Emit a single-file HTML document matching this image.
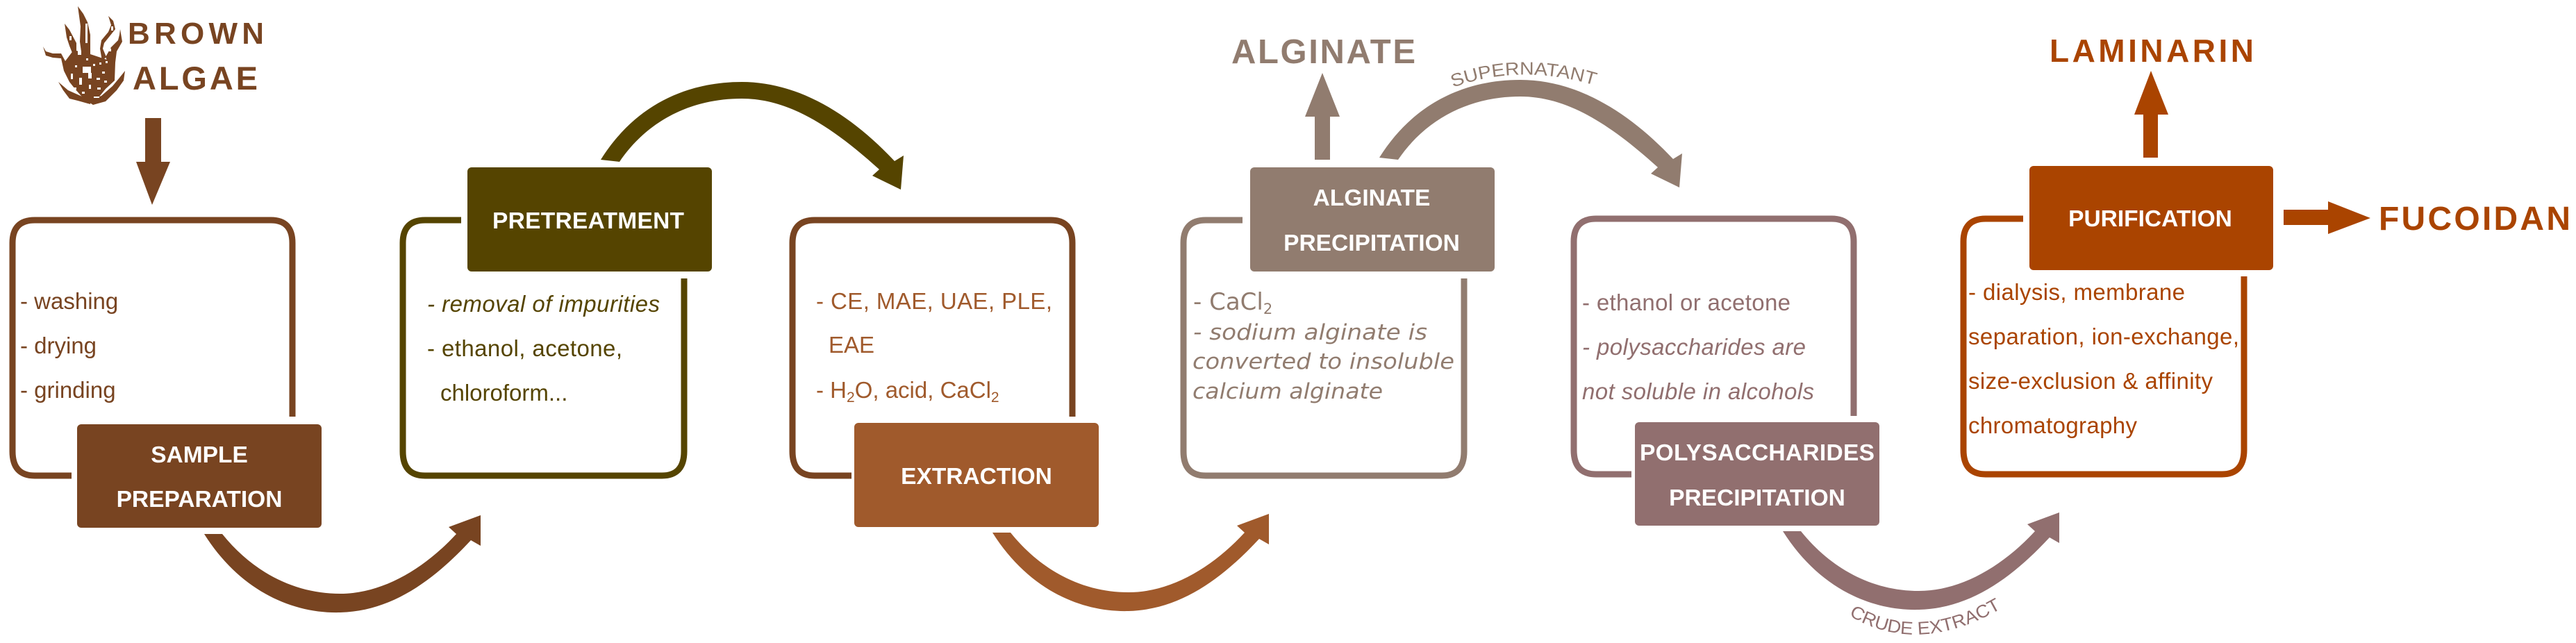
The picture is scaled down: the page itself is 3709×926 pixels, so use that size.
<!DOCTYPE html>
<html><head><meta charset="utf-8"><title>Brown algae</title>
<style>html,body{margin:0;padding:0;background:#fff;width:3709px;height:926px;overflow:hidden}
svg{display:block}
text{font-family:"Liberation Sans",sans-serif}
.t{font-size:33px}.h{font-size:33.5px;font-weight:bold;fill:#fff;text-anchor:middle}
.l{font-weight:bold}.i{font-style:italic}
.d{font-family:"DejaVu Sans",sans-serif;font-size:31px;fill:#917c6f}
.b{fill:none;stroke-width:9;stroke-linecap:butt}
</style></head><body>
<svg width="3709" height="926" viewBox="0 0 3709 926" xmlns="http://www.w3.org/2000/svg">
<defs>
<path id="au" d="M294 769 C345 850 420 884 490 882 C565 880 625 835 678 778 L692 786 L692 742 L646 759 L657 769 C610 820 550 855 490 855 C425 855 365 825 320 769 Z"/>
<path id="ao" d="M865 230 C915 150 990 118 1068 118 C1150 118 1225 165 1288 232 L1301 224 L1297 273 L1256 253 L1266 244 C1190 175 1130 142 1068 142 C1000 142 935 170 892 233 Z"/>
</defs>
<rect width="3709" height="926" fill="#fff"/>

<!-- seaweed -->
<g fill="#784421">
<path d="M112 9 L120 20 L126 32 L130 50 L130 80 L118 82 L115 60 L116 38 Z"/>
<path d="M93 34 L100 43 L110 62 L110 74 L104 76 L100 66 L96 54 Z"/>
<path d="M156 23 L163 30 L166 42 L158 52 L150 62 L148 70 L153 82 L147 88 L144 70 L146 58 L156 46 L160 36 Z"/>
<path d="M173 42 L176 60 L168 74 L166 90 L156 92 L152 82 L160 68 L170 58 L172 50 Z"/>
<path d="M62 67 L66 74 L76 77 L88 77 L94 88 L106 72 L130 78 L148 84 L166 90 L165 116 L152 128 L135 149 L122 144 L108 128 L100 118 L92 102 L88 84 L76 83 L66 80 Z"/>
<path d="M180 102 L178 116 L168 130 L152 146 L134 151 L126 146 L146 138 L162 124 L172 112 Z"/>
<path d="M84 118 L98 130 L116 138 L130 146 L130 150 L112 145 L100 142 L91 130 Z"/>
<g fill="#fff">
<rect x="123" y="34" width="3" height="28"/><rect x="112" y="73" width="5" height="6"/><rect x="119" y="96" width="12" height="9"/><rect x="127" y="105" width="5" height="8"/>
<rect x="102" y="106" width="3" height="8"/><rect x="114" y="112" width="4" height="10"/><rect x="139" y="112" width="5" height="3"/><rect x="147" y="103" width="4" height="3"/><rect x="143" y="90" width="3" height="3"/><rect x="134" y="92" width="3" height="3"/><rect x="152" y="88" width="3" height="3"/><rect x="124" y="84" width="3" height="3"/><rect x="108" y="94" width="3" height="3"/><rect x="150" y="116" width="4" height="3"/><rect x="140" y="126" width="5" height="3"/><rect x="106" y="126" width="4" height="3"/><rect x="118" y="132" width="4" height="3"/><rect x="135" y="139" width="8" height="2"/><rect x="128" y="122" width="3" height="6"/><rect x="157" y="70" width="3" height="4"/><rect x="160" y="38" width="3" height="6"/><rect x="100" y="52" width="3" height="6"/></g>
</g>
<text class="l" x="184" y="63" font-size="44" fill="#784421" textLength="196" lengthAdjust="spacing">BROWN</text>
<text class="l" x="191" y="129" font-size="47" fill="#784421" textLength="180" lengthAdjust="spacing">ALGAE</text>
<path fill="#784421" d="M209 170H232V233H245L219 295L196 233H209Z"/>

<!-- box 1 -->
<path class="b" stroke="#784421" d="M103 685 H50 Q18 685 18 650 V350 Q18 317 50 317 H390 Q421 317 421 350 V600"/>
<rect x="111" y="611" width="352" height="149" rx="6" fill="#784421"/>
<text class="h" x="287" y="666">SAMPLE</text>
<text class="h" x="287" y="730">PREPARATION</text>
<g class="t" fill="#784421"><text x="29" y="445">- washing</text><text x="29" y="509">- drying</text><text x="29" y="573">- grinding</text></g>
<use href="#au" fill="#784421"/>

<!-- box 2 -->
<path class="b" stroke="#554400" d="M664 317 H612 Q580 317 580 350 V650 Q580 685 612 685 H953 Q985 685 985 650 V401"/>
<rect x="673" y="241" width="352" height="150" rx="6" fill="#554400"/>
<text class="h" x="847" y="329" textLength="276">PRETREATMENT</text>
<g class="t" fill="#554400"><text class="i" x="615" y="449" textLength="335">- removal of impurities</text><text x="615" y="513" textLength="281">- ethanol, acetone,</text><text x="634" y="577">chloroform...</text></g>
<use href="#ao" fill="#554400"/>

<!-- box 3 -->
<path class="b" stroke="#784421" d="M1226 685 H1173 Q1141 685 1141 650 V350 Q1141 317 1173 317 H1513 Q1544 317 1544 350 V600"/>
<rect x="1230" y="609" width="352" height="150" rx="6" fill="#a05a2c"/>
<text class="h" x="1406" y="697">EXTRACTION</text>
<g class="t" fill="#a05a2c"><text x="1175" y="445" textLength="340">- CE, MAE, UAE, PLE,</text><text x="1193" y="508">EAE</text><text x="1175" y="573">- H<tspan font-size="21" dy="6">2</tspan><tspan dy="-6">O, acid, CaCl</tspan><tspan font-size="21" dy="6">2</tspan></text></g>
<use href="#au" x="1135" y="-2" fill="#a05a2c"/>

<!-- box 4 -->
<path class="b" stroke="#917c6f" d="M1789 317 H1736 Q1704 317 1704 350 V650 Q1704 685 1736 685 H2076 Q2108 685 2108 650 V401"/>
<rect x="1800" y="241" width="352" height="150" rx="6" fill="#917c6f"/>
<text class="h" x="1975" y="296">ALGINATE</text>
<text class="h" x="1975" y="361">PRECIPITATION</text>
<text class="d" x="1718" y="446" style="font-size:34px">- CaCl<tspan font-size="21" dy="6">2</tspan></text>
<text class="d i" x="1718" y="489" textLength="337" lengthAdjust="spacingAndGlyphs">- sodium alginate is</text>
<text class="d i" x="1717" y="531" textLength="377" lengthAdjust="spacingAndGlyphs">converted to insoluble</text>
<text class="d i" x="1717" y="574" textLength="274" lengthAdjust="spacingAndGlyphs">calcium alginate</text>
<text class="l" x="1773" y="91" font-size="49" fill="#917c6f" textLength="265" lengthAdjust="spacing">ALGINATE</text>
<path fill="#917c6f" d="M1893 230V168H1879L1904 105L1929 168H1915V230Z"/>
<use href="#ao" x="1121" y="-3" fill="#917c6f"/>
<path id="sp" d="M2092 126 Q2190 90 2300 124" fill="none"/>
<text font-size="26" fill="#917c6f"><textPath href="#sp" textLength="208" lengthAdjust="spacingAndGlyphs">SUPERNATANT</textPath></text>

<!-- box 5 -->
<path class="b" stroke="#916f6f" d="M2349 683 H2298 Q2266 683 2266 648 V348 Q2266 315 2298 315 H2637 Q2669 315 2669 348 V599"/>
<rect x="2354" y="608" width="352" height="149" rx="6" fill="#916f6f"/>
<text class="h" x="2530" y="663" textLength="338">POLYSACCHARIDES</text>
<text class="h" x="2530" y="728">PRECIPITATION</text>
<g class="t" fill="#916f6f"><text x="2278" y="447" textLength="300">- ethanol or acetone</text><text class="i" x="2278" y="511" textLength="322">- polysaccharides are</text><text class="i" x="2278" y="575" textLength="334">not soluble in alcohols</text></g>
<use href="#au" x="2273" y="-4" fill="#916f6f"/>
<path id="cp" d="M2662 886 Q2760 946 2882 876" fill="none"/>
<text font-size="26" fill="#916f6f"><textPath href="#cp" textLength="232" lengthAdjust="spacingAndGlyphs">CRUDE EXTRACT</textPath></text>

<!-- box 6 -->
<path class="b" stroke="#aa4400" d="M2913 315 H2859 Q2827 315 2827 348 V648 Q2827 683 2859 683 H3199 Q3231 683 3231 648 V398"/>
<rect x="2922" y="239" width="351" height="150" rx="6" fill="#aa4400"/>
<text class="h" x="3096" y="326">PURIFICATION</text>
<g class="t" fill="#aa4400"><text x="2834" y="432" textLength="312">- dialysis, membrane</text><text x="2834" y="496" textLength="390">separation, ion-exchange,</text><text x="2834" y="560" textLength="352">size-exclusion &amp; affinity</text><text x="2834" y="624" textLength="243">chromatography</text></g>
<text class="l" x="2951" y="89" font-size="46" fill="#aa4400" textLength="294" lengthAdjust="spacing">LAMINARIN</text>
<path fill="#aa4400" d="M3086 227V165H3073L3097 102L3122 165H3107V227Z"/>
<path fill="#aa4400" d="M3288 302H3352V290L3413 314L3352 337V324H3288Z"/>
<text class="l" x="3425" y="331" font-size="48" fill="#aa4400" textLength="276" lengthAdjust="spacing">FUCOIDAN</text>
</svg>
</body></html>
